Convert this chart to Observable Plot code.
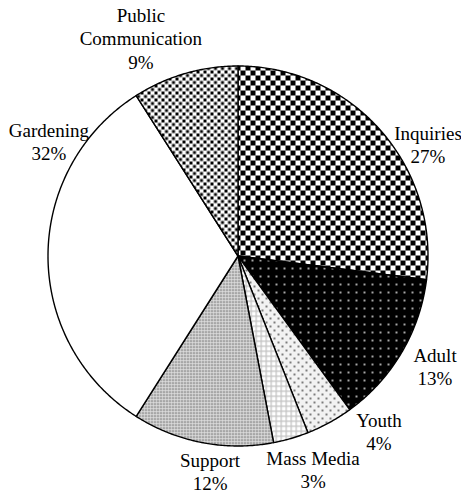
<!DOCTYPE html>
<html>
<head>
<meta charset="utf-8">
<script src="https://cdn.jsdelivr.net/npm/d3@7"></script>
<script src="https://cdn.jsdelivr.net/npm/@observablehq/plot@0.6"></script>
<style>
  html, body { margin: 0; padding: 0; background: #fff; }
  #chart svg { display: block; }
  #chart svg text { font-family: "Liberation Serif", "Times New Roman", serif; }
</style>
</head>
<body>
<div id="chart"></div>
<script>
// ---- data ----
const categories = ["Inquiries", "Adult", "Youth", "Mass Media", "Support", "Gardening", "Public Communication"];
const values = [27, 13, 4, 3, 12, 32, 9];
const labelLines = [["Inquiries"], ["Adult"], ["Youth"], ["Mass Media"], ["Support"], ["Gardening"], ["Public", "Communication"]];

// ---- layout (label anchors in pie-radius units, pattern ids) ----
const labelAt = [[1.0, 0.589], [1.037, -0.579], [0.742, -0.921], [0.395, -1.12], [-0.147, -1.132], [-0.995, 0.605], [-0.511, 1.147]];
const patternIds = ["pCheck", "pAdult", "pYouth", "pGrid", "pSupport", "pWhite", "pPublic"];

// ---- geometry from data ----
const pie = d3.pie().sort(null).value(d => d)(values);
const slices = categories.map((c, i) => {
  const a0 = pie[i].startAngle, a1 = pie[i].endAngle;
  const n = Math.max(2, Math.ceil((a1 - a0) / (Math.PI / 360)));
  const pts = [{x: 0, y: 0}];
  for (let k = 0; k <= n; k++) {
    const a = a0 + (a1 - a0) * k / n;
    pts.push({x: Math.sin(a), y: Math.cos(a)});
  }
  pts.push({x: 0, y: 0});
  return pts;
});
const labels = categories.map((c, i) => ({
  x: labelAt[i][0], y: labelAt[i][1],
  text: [...labelLines[i], values[i] + "%"].join("\n")
}));

const svg = Plot.plot({
  width: 461,
  height: 494,
  margin: 0,
  x: {domain: [-1, 1], range: [47.5, 427.5], axis: null},
  y: {domain: [-1, 1], range: [445.5, 65.5], axis: null},
  style: {background: "#fff"},
  marks: [
    ...slices.map((pts, i) => Plot.line(pts, {
      x: "x", y: "y", fill: `url(#${patternIds[i]})`, stroke: "#000", strokeWidth: 1.4, strokeLinejoin: "round"
    })),
    Plot.text(labels, {
      x: "x", y: "y", text: "text", fontSize: 19, lineHeight: 1.22,
      fontFamily: "Liberation Serif",
      textAnchor: "middle", lineAnchor: "middle", fill: "#000"
    })
  ]
});

// ---- fill patterns ----
const defs = d3.select(svg).insert("defs", ":first-child");
function pat(id, w, h) {
  return defs.append("pattern").attr("id", id).attr("patternUnits", "userSpaceOnUse")
    .attr("width", w).attr("height", h);
}
{ const p = pat("pCheck", 10, 10);
  p.append("rect").attr("width", 10).attr("height", 10).attr("fill", "#fff");
  p.append("rect").attr("width", 5).attr("height", 5).attr("fill", "#000");
  p.append("rect").attr("x", 5).attr("y", 5).attr("width", 5).attr("height", 5).attr("fill", "#000"); }
{ const p = pat("pAdult", 8, 8);
  p.append("rect").attr("width", 8).attr("height", 8).attr("fill", "#000");
  p.append("circle").attr("cx", 4).attr("cy", 4).attr("r", 1).attr("fill", "#ddd"); }
{ const p = pat("pYouth", 8, 8);
  p.append("rect").attr("width", 8).attr("height", 8).attr("fill", "#f2f2f2");
  p.append("circle").attr("cx", 2).attr("cy", 2).attr("r", 0.9).attr("fill", "#444");
  p.append("circle").attr("cx", 6).attr("cy", 6).attr("r", 0.9).attr("fill", "#444"); }
{ const p = pat("pGrid", 5, 5);
  p.append("rect").attr("width", 5).attr("height", 5).attr("fill", "#fff");
  p.append("rect").attr("width", 5).attr("height", 1.3).attr("fill", "#c4c4c4");
  p.append("rect").attr("width", 1.3).attr("height", 5).attr("fill", "#c4c4c4"); }
{ const p = pat("pSupport", 3, 3);
  p.append("rect").attr("width", 3).attr("height", 3).attr("fill", "#dcdcdc");
  p.append("circle").attr("cx", 1.5).attr("cy", 1.5).attr("r", 0.85).attr("fill", "#555"); }
{ const p = pat("pWhite", 4, 4);
  p.append("rect").attr("width", 4).attr("height", 4).attr("fill", "#fff"); }
{ const p = pat("pPublic", 7, 7);
  p.append("rect").attr("width", 7).attr("height", 7).attr("fill", "#fff");
  p.append("rect").attr("width", 3).attr("height", 3).attr("fill", "#000");
  p.append("rect").attr("x", 3.5).attr("y", 3.5).attr("width", 3).attr("height", 3).attr("fill", "#000"); }

document.getElementById("chart").appendChild(svg);
</script>
</body>
</html>
